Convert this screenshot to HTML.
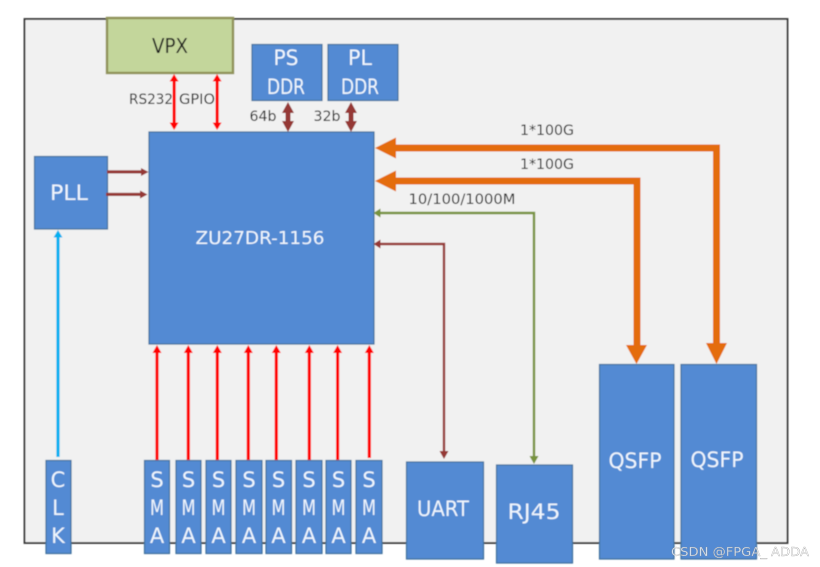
<!DOCTYPE html>
<html><head><meta charset="utf-8"><style>
html,body{margin:0;padding:0;background:#fff}
svg{display:block}
text{font-family:"DejaVu Sans","Liberation Sans",sans-serif}
.w{fill:#f0f6fd;font-size:21px;text-anchor:middle}
.k{fill:#222;font-size:14px;text-anchor:middle}
.b{fill:#538ad3;stroke:#41719c;stroke-width:1.2}
</style></head><body>
<svg width="820" height="567" viewBox="0 0 820 567" xmlns="http://www.w3.org/2000/svg">
<defs><filter id="s" x="-5%" y="-5%" width="110%" height="110%"><feGaussianBlur stdDeviation="0.4"/></filter></defs>
<rect width="820" height="567" fill="#fff"/>
<g filter="url(#s)">
<rect x="24.500" y="19" width="763" height="524" fill="#f1f1f1" stroke="#333" stroke-width="1.800"/>

<!-- top boxes -->
<rect x="107" y="18" width="126" height="55" fill="#c3d69b" stroke="#8f9258" stroke-width="2.400"/>
<rect class="b" x="252" y="44.500" width="70" height="56"/>
<rect class="b" x="328" y="44.500" width="70" height="56"/>
<rect class="b" x="149" y="132" width="225" height="212"/>
<rect class="b" x="34.500" y="156.500" width="73" height="72.500"/>

<!-- VPX arrows -->
<g fill="#ff0000">
<rect x="172.500" y="78" width="3.200" height="50"/><path d="M174.100 74l4.500 7.500h-9zM174.100 130l4.500-7.500h-9z"/>
<rect x="215.500" y="78" width="3.200" height="50"/><path d="M217.100 74l4.500 7.500h-9zM217.100 130l4.500-7.500h-9z"/>
</g>
<!-- DDR arrows -->
<g fill="#953735">
<path d="M288 102l6 11h-3.500v8h3.500L288 132l-6-11h3.500v-8h-3.500z"/>
<path d="M351 102l6 11h-3.500v8h3.500L351 132l-6-11h3.500v-8h-3.500z"/>
<rect x="107" y="170.300" width="36" height="3.200"/><path d="M148.500 172l-7.500-4v8z"/>
<rect x="106" y="192.800" width="36" height="3.200"/><path d="M147.500 194.500l-7.500-4v8z"/>
</g>
<!-- Cyan -->
<rect x="56.400" y="236" width="3.200" height="221" fill="#00b0f0"/>
<path d="M58 230l4.500 7.500h-9z" fill="#00b0f0"/>
<!-- SMA arrows -->
<g fill="#ff0000">
<rect x="155.400" y="352" width="3.200" height="108"/><path d="M157 345l4.500 8h-9z"/>
<rect x="186.700" y="352" width="3.200" height="108"/><path d="M188.300 345l4.500 8h-9z"/>
<rect x="215.700" y="352" width="3.200" height="108"/><path d="M217.300 345l4.500 8h-9z"/>
<rect x="246.700" y="352" width="3.200" height="108"/><path d="M248.300 345l4.500 8h-9z"/>
<rect x="274.700" y="352" width="3.200" height="108"/><path d="M276.300 345l4.500 8h-9z"/>
<rect x="307.700" y="352" width="3.200" height="108"/><path d="M309.300 345l4.500 8h-9z"/>
<rect x="336" y="352" width="3.200" height="108"/><path d="M337.600 345l4.500 8h-9z"/>
<rect x="367.700" y="352" width="3.200" height="106"/><path d="M369.300 345l4.500 8h-9z"/>
</g>
<!-- Orange -->
<g fill="#e46c0a">
<path d="M375 148l21-10.500v7h324v200h-7V151.500H396v7z"/>
<path d="M706 343h21l-10.500 21z"/>
<path d="M375 181l21-10.500v7h244.500v170h-7V184.500H396v7z"/>
<path d="M626 345h21l-10.500 19z"/>
</g>
<!-- Green -->
<path d="M380 213H534V458" fill="none" stroke="#77933c" stroke-width="2.400"/>
<path d="M373.500 213l7-4.500v9zM534 464l-4.500-8h9z" fill="#77933c"/>
<!-- Maroon -->
<path d="M380 244H444V454" fill="none" stroke="#953735" stroke-width="2.400"/>
<path d="M373.500 244l7-4.500v9zM444 459l-4.500-8h9z" fill="#953735"/>

<!-- bottom boxes -->
<rect class="b" x="46" y="460.500" width="25" height="93"/>
<rect class="b" x="144.500" y="460.500" width="25" height="93"/>
<rect class="b" x="176" y="460.500" width="25" height="93"/>
<rect class="b" x="206" y="460.500" width="25" height="93"/>
<rect class="b" x="236" y="460.500" width="26" height="93"/>
<rect class="b" x="266" y="460.500" width="25.500" height="93"/>
<rect class="b" x="296" y="460.500" width="26" height="93"/>
<rect class="b" x="326" y="460.500" width="25" height="93"/>
<rect class="b" x="356" y="460.500" width="26" height="93"/>
<rect class="b" x="406.500" y="462" width="77" height="97"/>
<rect class="b" x="496.500" y="465" width="76" height="98"/>
<rect class="b" x="599.500" y="364.500" width="74.500" height="194.500"/>
<rect class="b" x="681" y="364.500" width="75.500" height="194.500"/>

<!-- text -->
<text x="170" y="53" style="font-size:20px" fill="#1a1a1a" text-anchor="middle" textLength="36" lengthAdjust="spacingAndGlyphs">VPX</text>
<text class="w" x="286" y="65" textLength="25" lengthAdjust="spacingAndGlyphs">PS</text><text class="w" x="286" y="94" textLength="38" lengthAdjust="spacingAndGlyphs">DDR</text>
<text class="w" x="360" y="65" textLength="24" lengthAdjust="spacingAndGlyphs">PL</text><text class="w" x="360" y="94" textLength="38" lengthAdjust="spacingAndGlyphs">DDR</text>
<text class="w" x="69" y="200" textLength="38" lengthAdjust="spacingAndGlyphs">PLL</text>
<text class="w" x="260" y="244" style="font-size:18px" textLength="129" lengthAdjust="spacingAndGlyphs">ZU27DR-1156</text>
<text class="k" x="151" y="104" textLength="44" lengthAdjust="spacingAndGlyphs">RS232</text>
<text class="k" x="197" y="104" textLength="36" lengthAdjust="spacingAndGlyphs">GPIO</text>
<text class="k" x="263" y="121" textLength="27" lengthAdjust="spacingAndGlyphs">64b</text>
<text class="k" x="327" y="121" textLength="27" lengthAdjust="spacingAndGlyphs">32b</text>
<text class="k" x="547" y="135" textLength="54" lengthAdjust="spacingAndGlyphs">1*100G</text>
<text class="k" x="547" y="169" textLength="54" lengthAdjust="spacingAndGlyphs">1*100G</text>
<text class="k" x="462" y="204" textLength="107" lengthAdjust="spacingAndGlyphs">10/100/1000M</text>

<text class="w" x="58" y="487">C</text><text class="w" x="58" y="515">L</text><text class="w" x="58" y="543">K</text>
<text class="w" x="157" y="487">S</text><text class="w" x="157" y="515" textLength="14" lengthAdjust="spacingAndGlyphs">M</text><text class="w" x="157" y="543">A</text>
<text class="w" x="188.500" y="487">S</text><text class="w" x="188.500" y="515" textLength="14" lengthAdjust="spacingAndGlyphs">M</text><text class="w" x="188.500" y="543">A</text>
<text class="w" x="218.500" y="487">S</text><text class="w" x="218.500" y="515" textLength="14" lengthAdjust="spacingAndGlyphs">M</text><text class="w" x="218.500" y="543">A</text>
<text class="w" x="249" y="487">S</text><text class="w" x="249" y="515" textLength="14" lengthAdjust="spacingAndGlyphs">M</text><text class="w" x="249" y="543">A</text>
<text class="w" x="278.500" y="487">S</text><text class="w" x="278.500" y="515" textLength="14" lengthAdjust="spacingAndGlyphs">M</text><text class="w" x="278.500" y="543">A</text>
<text class="w" x="309" y="487">S</text><text class="w" x="309" y="515" textLength="14" lengthAdjust="spacingAndGlyphs">M</text><text class="w" x="309" y="543">A</text>
<text class="w" x="338.500" y="487">S</text><text class="w" x="338.500" y="515" textLength="14" lengthAdjust="spacingAndGlyphs">M</text><text class="w" x="338.500" y="543">A</text>
<text class="w" x="369" y="487">S</text><text class="w" x="369" y="515" textLength="14" lengthAdjust="spacingAndGlyphs">M</text><text class="w" x="369" y="543">A</text>

<text class="w" x="443" y="516" textLength="52" lengthAdjust="spacingAndGlyphs">UART</text>
<text class="w" x="534" y="519" textLength="53" lengthAdjust="spacingAndGlyphs">RJ45</text>
<text class="w" x="635" y="468" textLength="53" lengthAdjust="spacingAndGlyphs">QSFP</text>
<text class="w" x="717" y="467" textLength="53" lengthAdjust="spacingAndGlyphs">QSFP</text>
</g>
<text x="671" y="556" font-size="12.500" fill="#fff" fill-opacity="0.75" stroke="#888" stroke-width="0.25" textLength="138" lengthAdjust="spacingAndGlyphs">CSDN @FPGA_ ADDA</text>
</svg>
</body></html>
